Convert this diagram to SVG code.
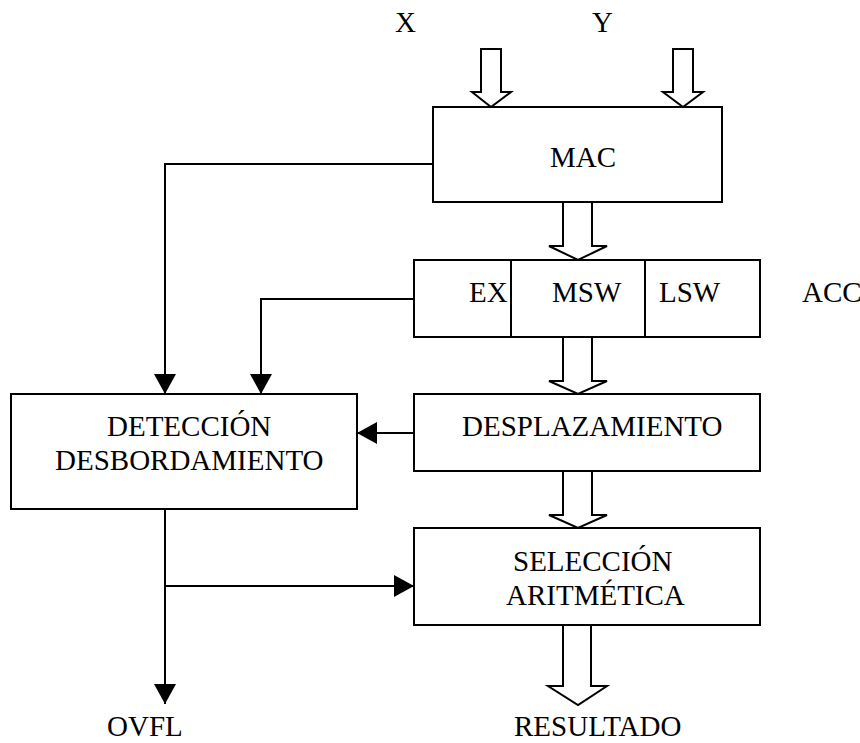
<svg xmlns="http://www.w3.org/2000/svg" width="860" height="743" viewBox="0 0 860 743">
<style>
.box{fill:#fff;stroke:#000;stroke-width:2}
.hol{fill:#fff;stroke:#000;stroke-width:2;stroke-linejoin:miter}
.ln{fill:none;stroke:#000;stroke-width:2}
.t{font-family:'Liberation Serif','Times New Roman','DejaVu Serif',serif;font-size:29px;fill:#000}
</style>
<defs>
<marker id="ah" markerUnits="userSpaceOnUse" markerWidth="22" markerHeight="22" viewBox="0 0 20 22" refX="20" refY="11" orient="auto">
<path d="M0,0 L20,11 L0,22 Z" fill="#000"/>
</marker>
</defs>
<rect width="860" height="743" fill="#fff"/>
<g id="labels" class="t" font-family="Liberation Serif, serif">
<text x="395" y="32">X</text>
<text x="592" y="32">Y</text>
<text x="802" y="302">ACC</text>
<text x="107" y="736">OVFL</text>
<text x="514" y="736">RESULTADO</text>
</g>
<g id="connectors">
<path class="hol" d="M481,49 H501 V92 H511 L491,107 L472,92 H481 Z"/>
<path class="hol" d="M673,49 H693 V92 H703 L683,107 L663,92 H673 Z"/>
<path class="hol" d="M563,202 H592 V246 H607 L578,260 L549,246 H563 Z"/>
<path class="hol" d="M563,337 H592 V381 H607 L578,394 L549,381 H563 Z"/>
<path class="hol" d="M563,471 H592 V515 H607 L578,528 L549,515 H563 Z"/>
<path class="hol" d="M563,625 H591 V686 H607 L578,705 L548,686 H563 Z"/>
<path class="ln" d="M433,164 H165 V394" marker-end="url(#ah)"/>
<path class="ln" d="M414,299 H261 V394" marker-end="url(#ah)"/>
<path class="ln" d="M414,433 H357" marker-end="url(#ah)"/>
<path class="ln" d="M165,509 V704" marker-end="url(#ah)"/>
<path class="ln" d="M165,586 H414" marker-end="url(#ah)"/>
</g>
<g id="mac">
<rect class="box" x="433" y="107" width="289" height="95"/>
<text class="t" x="550" y="167">MAC</text>
</g>
<g id="acc">
<rect class="box" x="414" y="260" width="346" height="77"/>
<line class="ln" x1="511" y1="260" x2="511" y2="337"/>
<line class="ln" x1="645" y1="260" x2="645" y2="337"/>
<text class="t" x="469" y="302">EX</text>
<text class="t" x="552" y="302">MSW</text>
<text class="t" x="659" y="302">LSW</text>
</g>
<g id="deteccion">
<rect class="box" x="11" y="394" width="346" height="115"/>
<text class="t" x="107" y="436">DETECCIÓN</text>
<text class="t" x="55" y="470">DESBORDAMIENTO</text>
</g>
<g id="desplazamiento">
<rect class="box" x="414" y="394" width="346" height="77"/>
<text class="t" x="462" y="436">DESPLAZAMIENTO</text>
</g>
<g id="seleccion">
<rect class="box" x="414" y="528" width="346" height="97"/>
<text class="t" x="513" y="571">SELECCIÓN</text>
<text class="t" x="506" y="605">ARITMÉTICA</text>
</g>
</svg>
